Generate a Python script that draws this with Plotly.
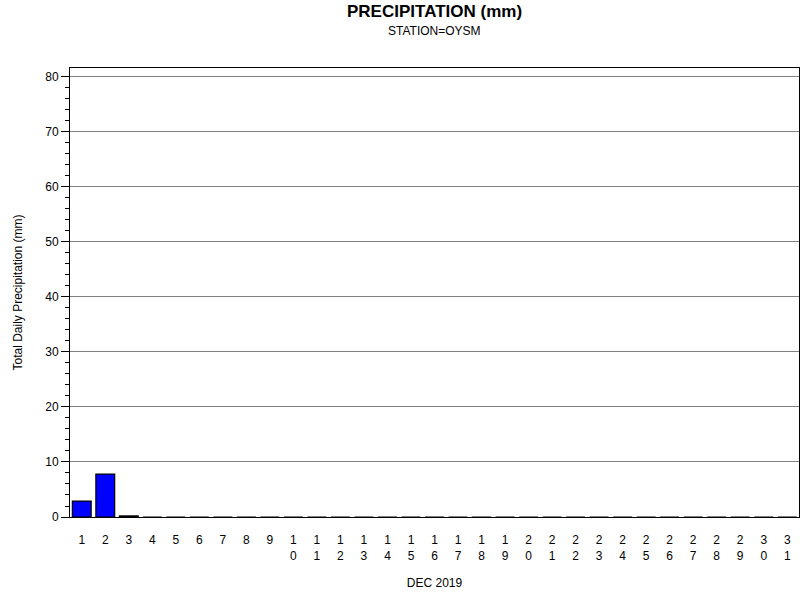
import plotly.graph_objects as go

days = list(range(1, 32))
precip = [2.9, 7.8, 0.2] + [0.0] * 28
tick_labels = ["<br>".join(str(d)) for d in days]
y_ticks = [0, 10, 20, 30, 40, 50, 60, 70, 80]

fig = go.Figure()
fig.add_trace(go.Bar(
    x=days, y=precip, width=0.8,
    marker=dict(color="#0000ff", line=dict(color="black", width=1.2)),
))

fig.update_layout(
    width=800, height=600,
    margin=dict(l=70, r=1, t=68, b=83, autoexpand=False),
    paper_bgcolor="white", plot_bgcolor="white",
    font=dict(family="Liberation Sans, Arial", size=12, color="black"),
    showlegend=False,
    bargap=0.2,
)
fig.update_xaxes(
    range=[0.5, 31.5], tickmode="array", tickvals=days, ticktext=tick_labels,
    showgrid=False, ticks="", showline=True, linecolor="black", linewidth=1, mirror=True,
    tickfont=dict(size=12), zeroline=False, automargin=False, ticklabelstandoff=12,
    title=dict(text="DEC 2019", font=dict(size=12), standoff=16),
)
fig.update_yaxes(
    range=[0, 81.6], tickmode="array", tickvals=y_ticks,
    showgrid=True, gridcolor="#808080", gridwidth=1,
    ticks="outside", ticklen=8, tickcolor="black",
    minor=dict(dtick=2, ticks="outside", ticklen=4, tickcolor="black", showgrid=False),
    showline=True, linecolor="black", linewidth=1, mirror=True, zeroline=False,
    tickfont=dict(size=12), automargin=False,
    title=dict(text="Total Daily Precipitation (mm)", font=dict(size=12), standoff=20),
)

fig.add_annotation(text="<b>PRECIPITATION (mm)</b>", xref="paper", yref="paper",
                   x=0.5, y=1, yshift=68, showarrow=False, font=dict(size=17))
fig.add_annotation(text="STATION=OYSM", xref="paper", yref="paper",
                   x=0.5, y=1, yshift=46, showarrow=False, font=dict(size=12))

fig.write_html("out.html", config={"displayModeBar": False},
               post_script="document.body.style.margin='0';")
